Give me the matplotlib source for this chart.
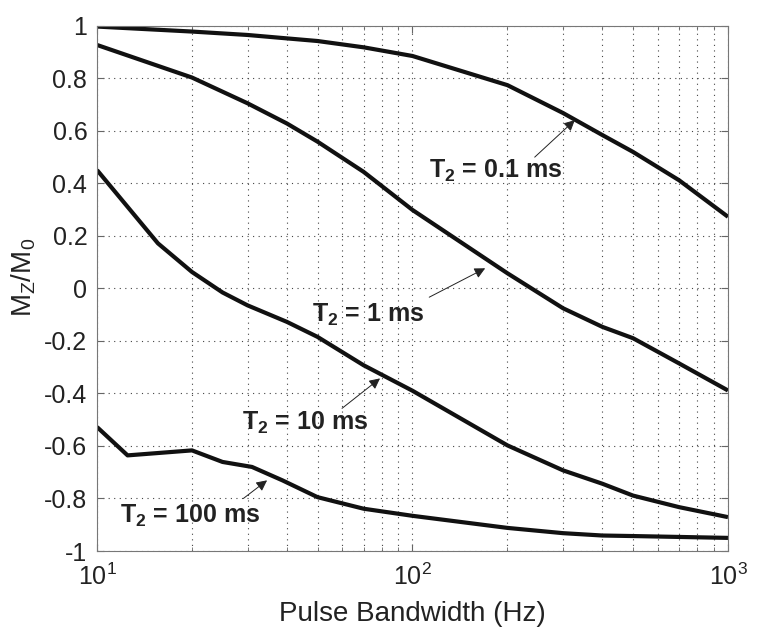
import matplotlib
matplotlib.use("Agg")
import matplotlib.pyplot as plt

plt.rcParams['font.family'] = ['Liberation Sans', 'DejaVu Sans']
plt.rcParams['mathtext.fontset'] = 'custom'
plt.rcParams['mathtext.rm'] = 'Liberation Sans'
plt.rcParams['mathtext.bf'] = 'Liberation Sans:bold'
plt.rcParams['mathtext.it'] = 'Liberation Sans:italic'
plt.rcParams['mathtext.default'] = 'rm'
plt.rcParams['axes.unicode_minus'] = False

# values (x in Hz, y = Mz/M0)
bw_01 = [10, 20, 30, 40, 50, 70, 100, 200, 300, 400, 500, 700, 1000]
mz_01 = [0.996, 0.977, 0.964, 0.951, 0.941, 0.917, 0.884, 0.773, 0.667, 0.583, 0.519, 0.411, 0.272]

bw_1 = [10, 20, 30, 40, 50, 70, 100, 200, 300, 400, 500, 700, 1000]
mz_1 = [0.926, 0.802, 0.704, 0.627, 0.558, 0.443, 0.298, 0.057, -0.076, -0.147, -0.19, -0.286, -0.389]

bw_10 = [10, 12.5, 15.6, 20, 25, 30, 40, 50, 70, 100, 200, 300, 400, 500, 700, 1000]
mz_10 = [0.45, 0.31, 0.171, 0.062, -0.016, -0.065, -0.128, -0.185, -0.293, -0.39,
         -0.598, -0.693, -0.744, -0.789, -0.833, -0.871]

bw_100 = [10, 12.5, 20, 25, 31, 38.7, 50, 70, 100, 200, 300, 400, 500, 1000]
mz_100 = [-0.528, -0.636, -0.617, -0.661, -0.68, -0.731, -0.795, -0.839, -0.866,
          -0.912, -0.932, -0.941, -0.943, -0.95]

labels = [r"$\mathbf{T_2}$ = 0.1 ms", r"$\mathbf{T_2}$ = 1 ms",
          r"$\mathbf{T_2}$ = 10 ms", r"$\mathbf{T_2}$ = 100 ms"]
# arrow head, arrow tail and text anchor, in data coords
arrow_heads = [(327, 0.64), (170, 0.076), (78.9, -0.343), (34.6, -0.731)]
arrow_tails = [(244, 0.499), (113, -0.034), (59.8, -0.457), (29.1, -0.80)]
text_pos = [(113, 0.445), (48, -0.10), (28.8, -0.514), (11.8, -0.865)]

fig = plt.figure(figsize=(7.65, 6.33), dpi=100)
ax = fig.add_axes([0.1268, 0.1295, 0.8248, 0.8302])

for x, y in [(bw_01, mz_01), (bw_1, mz_1), (bw_10, mz_10), (bw_100, mz_100)]:
    ax.plot(x, y, color='#111111', lw=3, solid_capstyle='butt')

ax.set_xscale('log')
ax.set_xlim(10, 1000)
ax.set_ylim(-1, 1)
ax.set_yticks([-1, -0.8, -0.6, -0.4, -0.2, 0, 0.2, 0.4, 0.6, 0.8, 1])
ax.set_yticklabels(['-1', '-0.8', '-0.6', '-0.4', '-0.2', '0', '0.2', '0.4', '0.6', '0.8', '1'])

ax.grid(True, which='major', axis='both', linestyle=(0, (1, 4)), color='#444444', lw=0.8)
ax.grid(True, which='minor', axis='x', linestyle=(0, (1, 4)), color='#444444', lw=0.8)
ax.tick_params(which='both', direction='in', top=True, right=True, labelsize=18,
               color='#666666', labelcolor='#222222')
ax.tick_params(which='major', length=5)
ax.tick_params(axis='x', which='major', pad=9)
ax.tick_params(axis='y', which='major', pad=7)
ax.tick_params(which='minor', length=3)
for s in ax.spines.values():
    s.set_color('#777777')

ax.set_xlabel('Pulse Bandwidth (Hz)', fontsize=20, color='#222222', labelpad=8)
ax.set_ylabel(r'M$_\mathrm{Z}$/M$_\mathrm{0}$', fontsize=20, color='#222222')
ax.yaxis.set_label_coords(-0.093, 0.52)

for lab, head, tail, tp in zip(labels, arrow_heads, arrow_tails, text_pos):
    ax.annotate('', xy=head, xytext=tail,
                arrowprops=dict(arrowstyle='-|>', color='#222222', lw=0.7,
                                mutation_scale=16, shrinkA=0, shrinkB=0))
    ax.text(tp[0], tp[1], lab, fontsize=18, fontweight='bold', color='#222222',
            ha='left', va='center')

fig.savefig('out.png', dpi=100)
